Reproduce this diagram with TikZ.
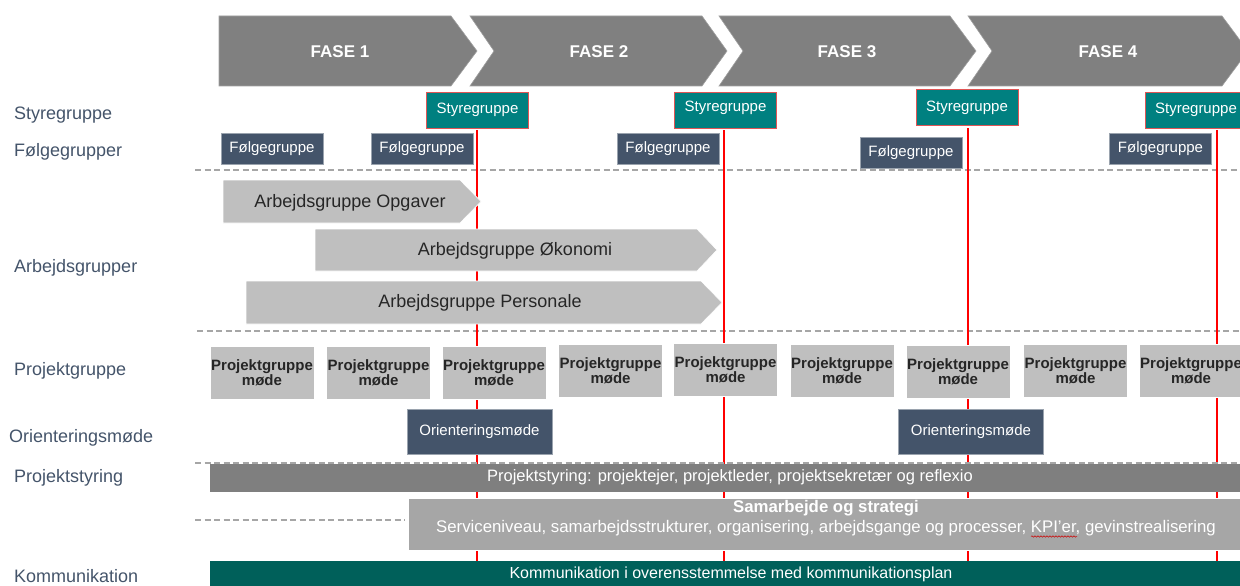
\documentclass[tikz,border=0pt]{standalone}
\usepackage{fontspec}
\setmainfont{Liberation Sans}
\usetikzlibrary{decorations.pathmorphing}
\definecolor{chev}{HTML}{808080}
\definecolor{chevb}{HTML}{A0A0A0}
\definecolor{tealc}{HTML}{008080}
\definecolor{redbord}{HTML}{E05555}
\definecolor{slate}{HTML}{44546A}
\definecolor{slateb}{HTML}{9AA3AE}
\definecolor{lgray}{HTML}{BFBFBF}
\definecolor{mgray}{HTML}{7F7F7F}
\definecolor{sgray}{HTML}{A6A6A6}
\definecolor{kteal}{HTML}{00605A}
\definecolor{labelc}{HTML}{44546A}
\definecolor{darktext}{HTML}{262626}
\definecolor{dashc}{HTML}{A6A6A6}
\begin{document}
\begin{tikzpicture}[x=1pt,y=-1pt,
  lbl/.style={anchor=west, text=labelc, font=\fontsize{18}{21}\selectfont, inner sep=0},
  fase/.style={text=white, font=\bfseries\fontsize{17}{20}\selectfont, inner sep=0},
  chevron/.style={fill=chev, draw=chevb, line width=0.6pt},
  stybox/.style={fill=tealc, draw=redbord, line width=0.8pt, minimum width=102, minimum height=36, text=white, font=\fontsize{15}{18}\selectfont, inner sep=0},
  folg/.style={fill=slate, draw=slateb, line width=0.6pt, minimum width=102, minimum height=31, text=white, font=\fontsize{15}{18}\selectfont, inner sep=0},
  arb/.style={fill=lgray, draw=white, line width=0.6pt},
  arbtxt/.style={text=darktext, font=\fontsize{18}{21}\selectfont, inner sep=0},
  pg/.style={fill=lgray, draw=white, line width=0.6pt, minimum width=104, minimum height=53, text=darktext, font=\bfseries\fontsize{15}{14}\selectfont, align=center, inner sep=0},
  orient/.style={fill=slate, draw=slateb, line width=0.6pt, minimum width=145, minimum height=45, text=white, font=\fontsize{15}{18}\selectfont, inner sep=0},
  sep/.style={dashc, line width=1.3pt, dash pattern=on 6pt off 3.5pt},
  redline/.style={red, line width=2pt},
  bartxt/.style={text=white, font=\fontsize{16.5}{20}\selectfont, inner sep=0}
]
\useasboundingbox (0,0) rectangle (1240,586);

% phases
\draw[chevron] (219,16) -- (451,16) -- (477,51) -- (451,86) -- (219,86) -- cycle;
\draw[chevron] (470,16) -- (702,16) -- (727,51) -- (702,86) -- (470,86) -- (494,51) -- cycle;
\draw[chevron] (719,16) -- (950,16) -- (976,51) -- (950,86) -- (719,86) -- (743,51) -- cycle;
\draw[chevron] (968,16) -- (1222,16) -- (1248,51) -- (1222,86) -- (968,86) -- (992,51) -- cycle;
\node[fase] (f1) at (340,52) {FASE 1};
\node[fase] (f2) at (599,52) {FASE 2};
\node[fase] (f3) at (847,52) {FASE 3};
\node[fase] (f4) at (1108,52) {FASE 4};

% left labels
\node[lbl] (l1) at (14,115) {Styregruppe};
\node[lbl] (l2) at (14,152) {Følgegrupper};
\node[lbl] (l3) at (14,268) {Arbejdsgrupper};
\node[lbl] (l4) at (14,371) {Projektgruppe};
\node[lbl] (l5) at (9,438) {Orienteringsmøde};
\node[lbl] (l6) at (14,478) {Projektstyring};
\node[lbl] (l7) at (14,576) {Kommunikation};

% separators
\coordinate (d1a) at (195,170); \coordinate (d1b) at (1240,170);
\coordinate (d2a) at (197,331); \coordinate (d2b) at (1240,331);
\coordinate (d3a) at (195,463); \coordinate (d3b) at (1240,463);
\coordinate (d4a) at (195,520); \coordinate (d4b) at (405,520);
\draw[sep] (d1a) -- (d1b);
\draw[sep] (d2a) -- (d2b);
\draw[sep] (d4a) -- (d4b);

% red milestone lines
\coordinate (r1t) at (477,130); \coordinate (r1b) at (477,586);
\coordinate (r2t) at (724,130); \coordinate (r2b) at (724,586);
\coordinate (r3t) at (968,128); \coordinate (r3b) at (968,586);
\coordinate (r4t) at (1217,130); \coordinate (r4b) at (1217,586);
\draw[redline] (r1t) -- (r1b);
\draw[redline] (r2t) -- (r2b);
\draw[redline] (r3t) -- (r3b);
\draw[redline] (r4t) -- (r4b);

% styregruppe
\node[stybox] (s1) at (477.5,110) {Styregruppe};
\node[stybox] (s2) at (725.5,110) {\raisebox{8pt}{Styregruppe}};
\node[stybox] (s3) at (967,107.5) {Styregruppe};
\node[stybox] (s4) at (1196,110) {Styregruppe};

% følgegrupper
\node[folg] (g1) at (272,148.5) {Følgegruppe};
\node[folg] (g2) at (422,148.5) {Følgegruppe};
\node[folg] (g3) at (668,148.5) {Følgegruppe};
\node[folg] (g4) at (911,152.5) {Følgegruppe};
\node[folg] (g5) at (1160.5,148.5) {Følgegruppe};

% arbejdsgrupper
\draw[arb] (223,180) -- (460,180) -- (481,201.5) -- (460,223) -- (223,223) -- cycle;
\node[arbtxt] (a1) at (350,203) {Arbejdsgruppe Opgaver};
\draw[arb] (315,229) -- (697,229) -- (717,250) -- (697,271) -- (315,271) -- cycle;
\node[arbtxt] (a2) at (515,251) {Arbejdsgruppe Økonomi};
\draw[arb] (246,281) -- (701,281) -- (722,302.5) -- (701,324) -- (246,324) -- cycle;
\node[arbtxt] (a3) at (480,303) {Arbejdsgruppe Personale};

% projektgruppe moeder
\node[pg] (p1) at (262,372.5) {Projektgruppe\\møde};
\node[pg] (p2) at (378.5,372.5) {Projektgruppe\\møde};
\node[pg] (p3) at (494,372.5) {Projektgruppe\\møde};
\node[pg] (p4) at (610.5,371) {Projektgruppe\\møde};
\node[pg] (p5) at (725.5,369.5) {Projektgruppe\\møde};
\node[pg] (p6) at (842,370.5) {Projektgruppe\\møde};
\node[pg] (p7) at (958,371.5) {Projektgruppe\\møde};
\node[pg] (p8) at (1075.5,370.5) {Projektgruppe\\møde};
\node[pg] (p9) at (1191,370.5) {Projektgruppe\\møde};

% orienteringsmoeder
\node[orient] (o1) at (479.5,431.5) {Orienteringsmøde};
\node[orient] (o2) at (971,431.5) {Orienteringsmøde};

% projektstyring
\node[fill=mgray, minimum width=1040, minimum height=28, inner sep=0, anchor=north west] (ps) at (210,463.5) {};
\node[bartxt] (pst) at (730,477) {Projektstyring: projektejer, projektleder, projektsekretær og reflexio};
\draw[sep] (d3a) -- (d3b);

% samarbejde
\node[fill=sgray, draw=white, line width=0.6pt, minimum width=836, minimum height=52, inner sep=0, anchor=north west] (sb) at (408,498) {};
\node[bartxt, align=center, font=\fontsize{16.8}{20}\selectfont] (sbt) at (826,518)
  {{\bfseries Samarbejde og strategi}\\Serviceniveau, samarbejdsstrukturer, organisering, arbejdsgange og processer, KPI’er, gevinstrealisering};
\coordinate (sq1) at (1031,536.5); \coordinate (sq2) at (1077,536.5);
\draw[red!80!black, line width=0.5pt, decorate, decoration={snake, amplitude=0.7pt, segment length=3pt}] (sq1) -- (sq2);

% kommunikation
\node[fill=kteal, minimum width=1040, minimum height=30, inner sep=0, anchor=north west] (kb) at (210,561) {};
\node[bartxt, font=\fontsize{16}{19}\selectfont] (kt) at (731,574) {Kommunikation i overensstemmelse med kommunikationsplan};
\end{tikzpicture}
\end{document}
